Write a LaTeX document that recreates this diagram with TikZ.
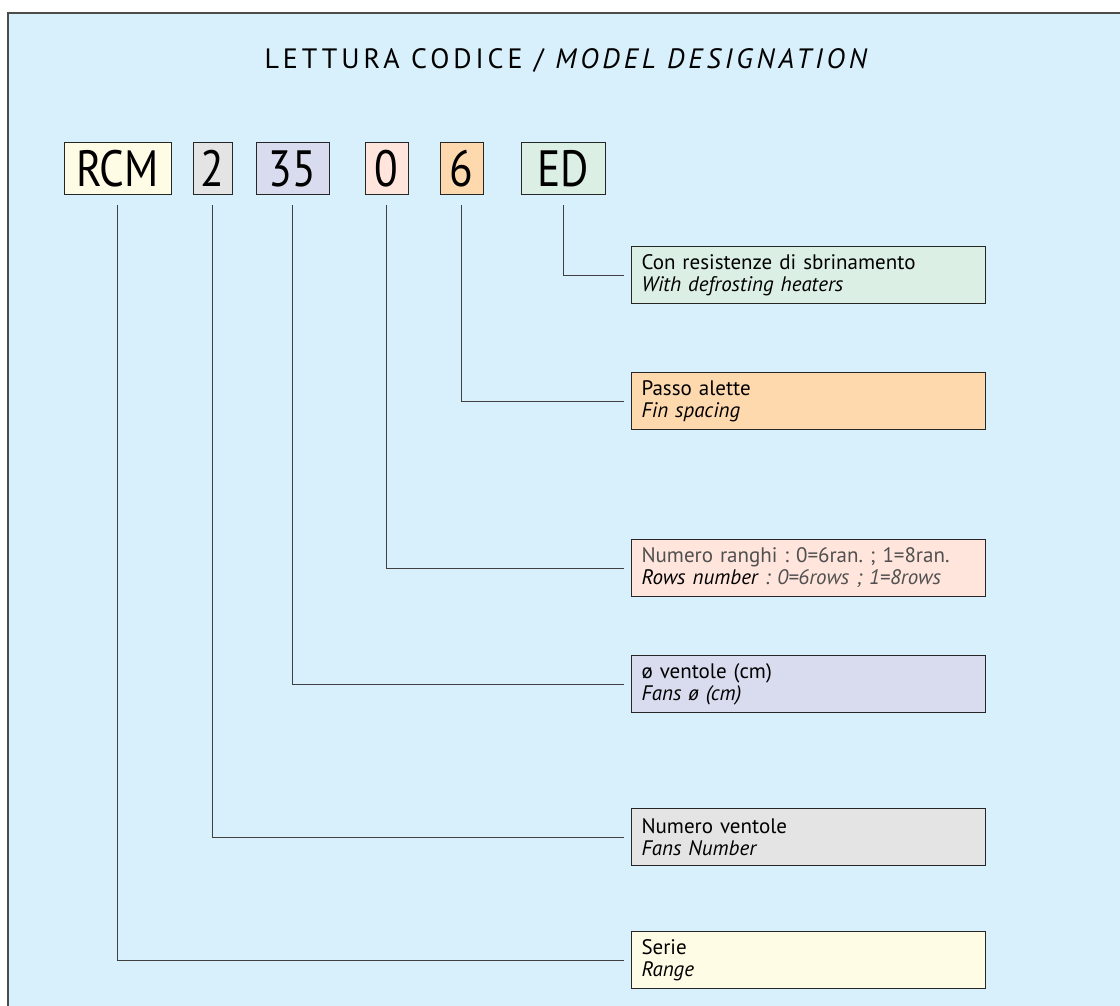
\documentclass[tikz,border=0pt]{standalone}
\usepackage{fontspec}
\setmainfont{PT Sans}
\newfontfamily\codefont[FakeStretch=0.85]{PT Sans}
\newfontfamily\titlefont[LetterSpace=14]{PT Sans}
\usetikzlibrary{positioning}
\frenchspacing

\definecolor{bgblue}{RGB}{216,240,252}
\definecolor{rangeyellow}{RGB}{255,252,230}
\definecolor{fansgray}{RGB}{228,228,228}
\definecolor{diamlilac}{RGB}{217,220,238}
\definecolor{rowspink}{RGB}{255,229,220}
\definecolor{finorange}{RGB}{255,217,174}
\definecolor{heatgreen}{RGB}{220,239,228}
\definecolor{softtext}{RGB}{80,80,80}

\begin{document}
\begin{tikzpicture}[
    x=1pt, y=-1pt,
    code/.style={rectangle, draw=black!85, line width=1pt, minimum height=52pt, inner sep=0pt, text height=35pt, text depth=0pt, font=\codefont\fontsize{51}{51}\selectfont},
    infobox/.style={rectangle, draw=black!85, line width=1pt, minimum width=354pt, minimum height=57pt, text width=334pt, inner xsep=10pt, align=left, font=\fontsize{21}{22}\selectfont},
    conn/.style={draw=black!75, line width=1pt}
    ]
    \useasboundingbox (0,0) rectangle (1120,1006);

    % Frame
    \fill[bgblue] (8,13) rectangle (1120,1006);
    \draw[black!70, line width=1.2pt] (8,1006) -- (8,13) -- (1120,13);

    % Title
    \node[anchor=base, font=\titlefont\fontsize{28}{28}\selectfont] (title) at (568,69) {LETTURA CODICE / \textit{MODEL DESIGNATION}};

    % Code
    \node (rcm) [code, fill=rangeyellow, minimum width=107pt] at (117.5,169) {RCM};
    \node (nfans) [code, fill=fansgray, minimum width=39pt, right=21pt of rcm] {2};
    \node (diam) [code, fill=diamlilac, minimum width=73pt, right=23pt of nfans] {35};
    \node (rows) [code, fill=rowspink, minimum width=43pt, right=35pt of diam] {0};
    \node (fin) [code, fill=finorange, minimum width=43pt, right=31pt of rows] {6};
    \node (ed) [code, fill=heatgreen, minimum width=84pt, right=37pt of fin] {ED};

    % Descriptions
    \node (heaters) [infobox, fill=heatgreen, anchor=north west] at (631,246) {Con resistenze di sbrinamento\\\textit{With defrosting heaters}};
    \node (spacing) [infobox, fill=finorange, below=68pt of heaters] {Passo alette\\\textit{Fin spacing}};
    \node (rowsnum) [infobox, fill=rowspink, below=109pt of spacing] {\textcolor{softtext}{Numero ranghi : 0=6ran. ; 1=8ran.}\\\textit{Rows number \textcolor{softtext}{: 0=6rows ; 1=8rows}}};
    \node (fansdiam) [infobox, fill=diamlilac, below=58pt of rowsnum] {ø ventole (cm)\\\textit{Fans ø (cm)}};
    \node (fansnum) [infobox, fill=fansgray, below=95pt of fansdiam] {Numero ventole\\\textit{Fans Number}};
    \node (serie) [infobox, fill=rangeyellow, below=65pt of fansnum] {Serie\\\textit{Range}};

    % Connectors
    \draw [conn] ([yshift=-10pt]ed.south) |- ([xshift=-7pt]heaters.west);
    \draw [conn] ([yshift=-10pt]fin.south) |- ([xshift=-7pt]spacing.west);
    \draw [conn] ([yshift=-10pt]rows.south) |- ([xshift=-7pt]rowsnum.west);
    \draw [conn] ([yshift=-10pt]diam.south) |- ([xshift=-7pt]fansdiam.west);
    \draw [conn] ([yshift=-10pt]nfans.south) |- ([xshift=-7pt]fansnum.west);
    \draw [conn] ([yshift=-10pt]rcm.south) |- ([xshift=-7pt]serie.west);

\end{tikzpicture}
\end{document}
